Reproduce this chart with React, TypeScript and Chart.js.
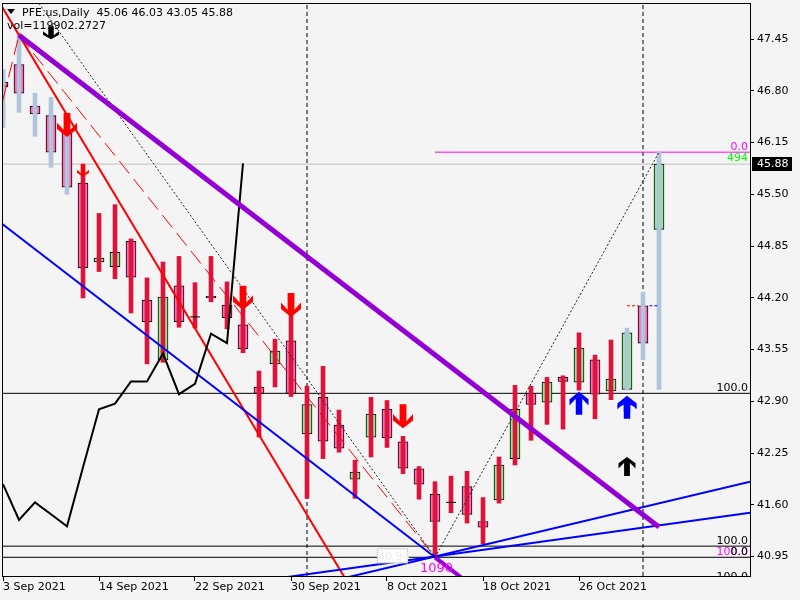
import React, { useEffect, useRef } from 'react';
import { Chart, registerables } from 'chart.js';

Chart.register(...registerables);

// ---------------- data ----------------
const barDates = ['3 Sep', '7 Sep', '8 Sep', '9 Sep', '10 Sep', '13 Sep', '14 Sep', '15 Sep', '16 Sep', '17 Sep',
  '20 Sep', '21 Sep', '22 Sep', '23 Sep', '24 Sep', '27 Sep', '28 Sep', '29 Sep', '30 Sep', '1 Oct',
  '4 Oct', '5 Oct', '6 Oct', '7 Oct', '8 Oct', '11 Oct', '12 Oct', '13 Oct', '14 Oct', '15 Oct',
  '18 Oct', '19 Oct', '20 Oct', '21 Oct', '22 Oct', '25 Oct', '26 Oct', '27 Oct', '28 Oct', '29 Oct',
  '1 Nov', '2 Nov'];
const opens = [46.91, 47.13, 46.61, 46.49, 46.28, 45.64, 44.65, 44.59, 44.91, 44.17,
  43.42, 44.35, 43.96, 44.22, 44.11, 43.86, 43.08, 43.37, 43.66, 42.49,
  42.95, 42.60, 41.92, 42.45, 42.80, 42.39, 42.05, 41.73, 41.63, 41.83,
  41.39, 41.66, 42.18, 43.00, 42.89, 43.20, 43.14, 43.42, 43.03, 43.05,
  44.10, 45.06];
const highs = [47.07, 47.53, 46.77, 46.72, 46.44, 45.88, 45.26, 45.37, 44.94, 44.45,
  44.65, 44.72, 44.39, 44.72, 44.40, 44.34, 43.28, 43.68, 43.99, 43.09,
  43.34, 42.79, 42.16, 42.95, 42.91, 42.46, 42.08, 41.89, 41.96, 42.02,
  41.69, 42.20, 43.10, 43.09, 43.20, 43.22, 43.76, 43.48, 43.67, 43.82,
  44.27, 46.03];
const lows = [46.34, 46.53, 46.23, 45.84, 45.50, 44.20, 44.53, 44.44, 44.01, 43.37,
  43.39, 43.83, 43.82, 44.15, 43.81, 43.51, 42.45, 43.08, 42.96, 41.68,
  42.18, 42.26, 41.68, 42.20, 42.32, 41.99, 41.67, 40.94, 41.50, 41.37,
  41.11, 41.62, 42.10, 42.41, 42.61, 42.55, 43.04, 42.68, 42.92, 43.04,
  43.42, 43.05];
const closes = [46.85, 46.77, 46.51, 46.03, 45.59, 44.58, 44.70, 44.77, 44.46, 43.90,
  44.21, 43.90, 43.96, 44.20, 43.95, 43.56, 43.00, 43.53, 43.00, 42.86,
  42.40, 42.31, 42.01, 42.74, 42.44, 42.06, 41.86, 41.39, 41.63, 41.48,
  41.32, 42.10, 42.80, 42.86, 43.14, 43.15, 43.57, 42.99, 43.18, 43.76,
  43.63, 45.88];
const steelWickBars = [0, 1, 2, 3, 4, 39, 40, 41];

const xTickBars = [0, 6, 12, 18, 24, 30, 36];
const xTickLabels = ['3 Sep 2021', '14 Sep 2021', '22 Sep 2021', '30 Sep 2021', '8 Oct 2021', '18 Oct 2021', '26 Oct 2021'];
const yTicks = [40.95, 41.60, 42.25, 42.90, 43.55, 44.20, 44.85, 45.50, 46.15, 46.80, 47.45];

// black indicator line (bars 0..15)
const indicatorValues = [41.86, 41.41, 41.63, 41.48, 41.33, 42.07, 42.80, 42.87, 43.15, 43.15,
  43.50, 42.99, 43.12, 43.75, 43.63, 45.89];

// trend lines: [bar, price] anchors
const purpleTrend = [[1, 47.50], [41, 41.32]];
const redTrend = [[1, 47.50], [21.25, 40.72]];
const redDashTrend = [[1, 47.50], [27, 40.94]];
const redDashLeft = [[0, 46.69], [1, 47.50]];
const dotDownTrend = [[2.1, 47.94], [27, 40.94]];
const dotUpTrend = [[27, 40.94], [41, 46.03]];
const channelLow = [[0, 45.12], [27, 40.94]];
const blueFanA = [[27, 40.95], [46.69, 41.89]];
const blueFanB = [[27, 40.95], [46.69, 41.50]];

// horizontal levels
const fibLevel100 = 43.00;
const fibLevelTop = 46.03;
const lastPrice = 45.88;
const lowLevelA = 41.08;
const lowLevelB = 40.94;
const lowLevelC = 40.63;
const vLineBars = [19, 40];
const markLevel = 44.10;

// arrows
const redArrowBars = [4, 15, 18, 25];
const redArrowTips = [46.22, 44.05, 43.96, 42.56];
const smallRedArrowBars = [5];
const smallRedArrowTips = [45.72];
const blackDownArrowBars = [3];
const blackDownArrowTips = [47.45];
const blueUpArrowBars = [36, 39];
const blueUpArrowTips = [43.02, 42.97];
const blackUpArrowBars = [39];
const blackUpArrowTips = [42.20];

const headerText = 'PFE.us,Daily  45.06 46.03 43.05 45.88';
const volText = 'vol=119902.2727';

// scale ranges
const X_MIN = -0.0625;
const X_MAX = 46.6875;
const Y_MIN = 40.705;
const Y_MAX = 47.904;

// ---------------- helpers ----------------
const BG = '#F4F4F4';
const FONT = '"DejaVu Sans", sans-serif';
const BULL = '#90EE90';
const BEAR = '#FF69B4';
const CRIMSON = '#DC143C';
const STEEL = '#B0C4DE';

function yAt(p1: number[], p2: number[], x: number) {
  const t = (x - p1[0]) / (p2[0] - p1[0]);
  return p1[1] + t * (p2[1] - p1[1]);
}
function extended(p1: number[], p2: number[], x0: number, x1: number) {
  return [{ x: x0, y: yAt(p1, p2, x0) }, { x: x1, y: yAt(p1, p2, x1) }];
}
function segment(p1: number[], p2: number[]) {
  return [{ x: p1[0], y: p1[1] }, { x: p2[0], y: p2[1] }];
}
function lineDs(data: any[], color: string, width: number, dash: number[] = [], order = 1) {
  return {
    type: 'line',
    data,
    borderColor: color,
    borderWidth: width,
    borderDash: dash,
    pointRadius: 0,
    fill: false,
    tension: 0,
    order,
  };
}

function drawArrow(ctx: CanvasRenderingContext2D, cx: number, ty: number, w: number, h: number, dir: number, color: string) {
  // dir = 1 -> pointing down (tip at bottom), -1 -> pointing up
  const sw = Math.max(1.5, w * 0.17);
  const hw = w / 2;
  const hh = h * 0.6;
  const d = dir;
  const pts = [
    [cx - sw, ty - d * h],
    [cx + sw, ty - d * h],
    [cx + sw, ty - d * hh * 0.5],
    [cx + hw, ty - d * hh],
    [cx + hw, ty - d * hh * 0.55],
    [cx, ty],
    [cx - hw, ty - d * hh * 0.55],
    [cx - hw, ty - d * hh],
    [cx - sw, ty - d * hh * 0.5],
  ];
  ctx.beginPath();
  pts.forEach((p, k) => (k === 0 ? ctx.moveTo(p[0], p[1]) : ctx.lineTo(p[0], p[1])));
  ctx.closePath();
  ctx.fillStyle = color;
  ctx.fill();
}

function zeroPad(s: any) {
  s.paddingTop = 0;
  s.paddingBottom = 0;
  s.paddingLeft = 0;
  s.paddingRight = 0;
}

const overlayPlugin = {
  id: 'mtOverlay',
  beforeDraw(chart: any) {
    const { ctx, width, height } = chart;
    ctx.save();
    ctx.fillStyle = BG;
    ctx.fillRect(0, 0, width, height);
    ctx.restore();
  },
  afterDatasetsDraw(chart: any) {
    const { ctx, chartArea: a, scales } = chart;
    const xs = scales.x;
    const ys = scales.y;
    ctx.save();
    ctx.beginPath();
    ctx.rect(a.left, a.top, a.right - a.left, a.bottom - a.top);
    ctx.clip();

    const lowX = xs.getPixelForValue(blueFanA[0][0]);
    const lowY = ys.getPixelForValue(lowLevelB);

    // small white label box near the low
    ctx.fillStyle = '#FFFFFF';
    ctx.fillRect(lowX - 58, lowY - 9, 31, 15);
    ctx.setLineDash([1, 1]);
    ctx.strokeStyle = '#A0A0A0';
    ctx.lineWidth = 1;
    ctx.strokeRect(lowX - 57.5, lowY - 8.5, 30, 14);
    ctx.setLineDash([]);
    ctx.font = '11px ' + FONT;
    ctx.fillStyle = '#EDEDED';
    ctx.textAlign = 'left';
    ctx.textBaseline = 'alphabetic';
    ctx.fillText('40.94', lowX - 57, lowY + 3);

    // fibo labels
    const rx = a.right - 2;
    ctx.textAlign = 'right';
    ctx.font = '11px ' + FONT;
    const lab = (t: string, v: number, dy: number, c: string) => {
      ctx.fillStyle = c;
      ctx.fillText(t, rx, ys.getPixelForValue(v) + dy);
    };
    lab('100.0', fibLevel100, -2, '#000000');
    lab('0.0', fibLevelTop, -2, '#FF00FF');
    lab('494', fibLevelTop, 9, '#00FF00');
    lab('100.0', lowLevelA, -2, '#000000');
    lab('100.0', lowLevelB, -2, '#FF00FF');
    lab('0.0', lowLevelB, -2, '#000000');
    lab('100.0', lowLevelC, -2, '#000000');

    // 1090 label
    ctx.textAlign = 'left';
    ctx.font = '13px ' + FONT;
    ctx.fillStyle = '#FF00FF';
    ctx.fillText('1090', lowX - 15, lowY + 15);

    // header
    ctx.fillStyle = '#000000';
    ctx.beginPath();
    ctx.moveTo(7, 9);
    ctx.lineTo(15, 9);
    ctx.lineTo(11, 14);
    ctx.closePath();
    ctx.fill();
    ctx.font = '11px ' + FONT;
    ctx.textBaseline = 'middle';
    ctx.fillText(headerText, 22, 13);
    ctx.fillText(volText, 7, 26);

    // arrows
    redArrowBars.forEach((b, k) => drawArrow(ctx, xs.getPixelForValue(b), ys.getPixelForValue(redArrowTips[k]), 20, 24, 1, '#FF0000'));
    smallRedArrowBars.forEach((b, k) => drawArrow(ctx, xs.getPixelForValue(b), ys.getPixelForValue(smallRedArrowTips[k]), 12, 12, 1, '#FF0000'));
    blackDownArrowBars.forEach((b, k) => drawArrow(ctx, xs.getPixelForValue(b), ys.getPixelForValue(blackDownArrowTips[k]), 16, 13, 1, '#000000'));
    blueUpArrowBars.forEach((b, k) => {
      const cx = xs.getPixelForValue(b);
      const ty = ys.getPixelForValue(blueUpArrowTips[k]);
      drawArrow(ctx, cx, ty, 19, 23, -1, '#0000FF');
      if (k === 1) drawArrow(ctx, cx, ty + 6, 19, 10, -1, '#0000FF');
    });
    blackUpArrowBars.forEach((b, k) => drawArrow(ctx, xs.getPixelForValue(b), ys.getPixelForValue(blackUpArrowTips[k]), 17, 19, -1, '#000000'));

    ctx.restore();
  },
  afterDraw(chart: any) {
    const { ctx, chartArea: a, scales } = chart;
    ctx.save();
    ctx.strokeStyle = '#000000';
    ctx.lineWidth = 1;
    ctx.strokeRect(a.left + 0.5, a.top + 0.5, a.right - a.left, a.bottom - a.top);
    // last price tag
    const py = Math.round(scales.y.getPixelForValue(lastPrice));
    ctx.fillStyle = '#000000';
    ctx.fillRect(a.right + 2, py - 7, 40, 14);
    ctx.fillStyle = '#FFFFFF';
    ctx.font = '11px ' + FONT;
    ctx.textAlign = 'left';
    ctx.textBaseline = 'middle';
    ctx.fillText(lastPrice.toFixed(2), a.right + 7, py + 0.5);
    ctx.restore();
  },
};

function buildConfig(): any {
  const idx = opens.map((_, i) => i);
  const bodies = idx.map((i) => ({ x: i, y: [opens[i], closes[i]] }));
  const wicks = idx.map((i) => ({ x: i, y: [lows[i], highs[i]] }));
  const bodyColors = idx.map((i) => (closes[i] > opens[i] ? BULL : BEAR));
  const wickColors = idx.map((i) => (steelWickBars.includes(i) ? STEEL : CRIMSON));
  const dojis = idx.filter((i) => opens[i] === closes[i]).map((i) => ({ x: i, y: opens[i] }));

  const datasets: any[] = [
    // background levels
    lineDs(extended([0, lastPrice], [1, lastPrice], X_MIN, X_MAX), '#C0C0C0', 1, [], 9),
    lineDs(extended([0, fibLevel100], [1, fibLevel100], X_MIN, X_MAX), '#000000', 1, [], 9),
    lineDs(extended([0, lowLevelA], [1, lowLevelA], X_MIN, X_MAX), '#000000', 1, [], 9),
    lineDs(extended([0, lowLevelB], [1, lowLevelB], X_MIN, X_MAX), '#000000', 1, [], 9),
    lineDs(extended([0, fibLevelTop], [1, fibLevelTop], blueFanA[0][0], X_MAX), '#FF00FF', 1, [], 9),
    ...vLineBars.map((b) => lineDs([{ x: b, y: Y_MIN }, { x: b, y: Y_MAX }], '#000000', 1, [4, 3], 9)),
    // candles
    {
      type: 'bar',
      data: bodies,
      backgroundColor: bodyColors,
      borderColor: '#000000',
      borderWidth: 1,
      borderSkipped: false,
      barThickness: 10,
      grouped: false,
      order: 6,
    },
    {
      type: 'bar',
      data: wicks,
      backgroundColor: wickColors,
      borderWidth: 0,
      barThickness: 4,
      grouped: false,
      order: 5,
    },
    {
      type: 'scatter',
      data: dojis,
      pointStyle: 'line',
      pointRadius: 5,
      borderColor: '#000000',
      borderWidth: 1,
      order: 4,
    },
    // small marks on last bars
    lineDs(extended([0, markLevel], [1, markLevel], 39, 39.7), '#FF0000', 1, [3, 2], 3),
    lineDs(extended([0, markLevel], [1, markLevel], 40.4, 41), '#0000FF', 1, [3, 2], 3),
    // overlays
    lineDs(segment(dotDownTrend[0], dotDownTrend[1]), '#222222', 1, [2, 2], 2),
    lineDs(segment(dotUpTrend[0], dotUpTrend[1]), '#222222', 1, [2, 2], 2),
    lineDs(segment(redDashTrend[0], redDashTrend[1]), '#FF0000', 1, [16, 7], 2),
    lineDs(segment(redDashLeft[0], redDashLeft[1]), '#FF0000', 1, [16, 7], 2),
    lineDs(indicatorValues.map((v, i) => ({ x: i, y: v })), '#000000', 2, [], 2),
    lineDs(extended(blueFanA[0], blueFanA[1], 15, X_MAX), '#0000FF', 2, [], 2),
    lineDs(extended(blueFanB[0], blueFanB[1], 15, X_MAX), '#0000FF', 2, [], 2),
    lineDs(extended(channelLow[0], channelLow[1], X_MIN, channelLow[1][0]), '#0000FF', 2, [], 2),
    lineDs(extended(redTrend[0], redTrend[1], X_MIN, X_MAX), '#FF0000', 2, [], 2),
    lineDs(segment(purpleTrend[0], purpleTrend[1]), '#9400D3', 5, [], 1),
    lineDs(extended(channelLow[0], channelLow[1], channelLow[1][0], X_MAX), '#9400D3', 4, [], 1),
  ];

  return {
    type: 'bar',
    data: { datasets },
    options: {
      responsive: false,
      maintainAspectRatio: false,
      animation: false,
      events: [],
      layout: { autoPadding: false, padding: { left: 2, top: 3, right: 0, bottom: 0 } },
      plugins: { legend: { display: false }, tooltip: { enabled: false } },
      scales: {
        x: {
          type: 'linear',
          position: 'bottom',
          min: X_MIN,
          max: X_MAX,
          offset: false,
          afterFit: (s: any) => { s.height = 24; zeroPad(s); },
          afterBuildTicks: (s: any) => { s.ticks = xTickBars.map((v) => ({ value: v })); },
          ticks: {
            callback: (_v: any, i: number) => xTickLabels[i],
            align: 'start',
            maxRotation: 0,
            minRotation: 0,
            autoSkip: false,
            color: '#000000',
            font: { family: FONT, size: 11 },
            padding: 0,
          },
          grid: { offset: false, drawOnChartArea: false, drawTicks: true, tickLength: 5, color: '#000000' },
          border: { display: false },
        },
        y: {
          type: 'linear',
          position: 'right',
          min: Y_MIN,
          max: Y_MAX,
          afterFit: (s: any) => { s.width = 50; zeroPad(s); },
          afterBuildTicks: (s: any) => { s.ticks = yTicks.map((v) => ({ value: v })); },
          ticks: {
            callback: (v: any) => Number(v).toFixed(2),
            color: '#000000',
            font: { family: FONT, size: 11 },
            padding: 3,
          },
          grid: { drawOnChartArea: false, drawTicks: true, tickLength: 4, color: '#000000' },
          border: { display: false },
        },
      },
    },
    plugins: [overlayPlugin],
  };
}

export default function App() {
  const ref = useRef<HTMLCanvasElement | null>(null);
  useEffect(() => {
    if (!ref.current) return;
    const chart = new Chart(ref.current, buildConfig());
    return () => chart.destroy();
  }, []);
  return (
    <div style={{ position: 'fixed', left: 0, top: 0, width: 800, height: 600, background: BG }}>
      <canvas ref={ref} width={800} height={600} style={{ display: 'block', width: 800, height: 600 }} />
    </div>
  );
}
